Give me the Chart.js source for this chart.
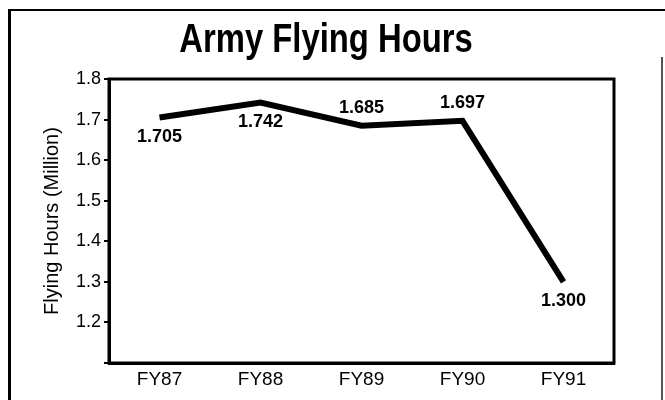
<!DOCTYPE html>
<html>
<head>
<meta charset="utf-8">
<script src="https://cdn.jsdelivr.net/npm/chart.js@4/dist/chart.umd.min.js"></script>
<style>
  html, body { margin: 0; padding: 0; background: #fff; }
  #wrap { position: relative; width: 665px; height: 400px; }
  #frame { position: absolute; left: 8px; top: 9px; width: 660px; height: 395px;
           border-left: 3px solid #000; border-top: 2px solid #000; }
  #rline { position: absolute; left: 661px; top: 57px; width: 0; height: 343px;
           border-left: 2px solid #555; }
</style>
</head>
<body>
<div id="wrap">
  <div id="frame"></div>
  <div id="rline"></div>
  <canvas id="ch" width="665" height="400"></canvas>
</div>
<script>
var TITLE = "Army Flying Hours";
var YEARS = ["FY87", "FY88", "FY89", "FY90", "FY91"];
var HOURS = [1.705, 1.742, 1.685, 1.697, 1.300];
var Y_MIN = 1.1, Y_MAX = 1.8, Y_STEP = 0.1;

var INK = "#000";
var FONT = "'Liberation Sans', Arial, Helvetica, sans-serif";

// condensed bold title (no narrow face installed, so squeeze it horizontally)
var titlePlugin = {
  id: "condTitle",
  afterDraw: function (chart, args, opts) {
    var ctx = chart.ctx;
    ctx.save();
    ctx.translate(opts.x, opts.baseline);
    ctx.scale(0.82, 1);
    ctx.font = "bold 40px " + FONT;
    ctx.fillStyle = INK;
    ctx.textAlign = "center";
    ctx.textBaseline = "alphabetic";
    ctx.fillText(TITLE, 0, 0);
    ctx.restore();
  }
};

// value labels above/below each point, and the closed plot frame
var labelPlugin = {
  id: "ptLabels",
  afterDatasetsDraw: function (chart, args, opts) {
    var ctx = chart.ctx, meta = chart.getDatasetMeta(0);
    ctx.save();
    ctx.font = "bold 18px " + FONT;
    ctx.fillStyle = INK;
    ctx.textAlign = "center";
    meta.data.forEach(function (pt, i) {
      var above = opts.place[i] === "above";
      ctx.textBaseline = above ? "bottom" : "top";
      ctx.fillText(HOURS[i].toFixed(3), pt.x, above ? pt.y - 9 : pt.y + 10);
    });
    ctx.restore();
  },
  afterDraw: function (chart) {
    var a = chart.chartArea, ctx = chart.ctx;
    ctx.save();
    ctx.strokeStyle = INK;
    ctx.lineWidth = 3;
    ctx.strokeRect(a.left, a.top, a.right - a.left, a.bottom - a.top);
    ctx.restore();
  }
};

new Chart(document.getElementById("ch"), {
  type: "line",
  data: {
    labels: YEARS,
    datasets: [{
      data: HOURS,
      borderColor: INK, borderWidth: 6, pointRadius: 0, tension: 0,
      borderJoinStyle: "miter", fill: false
    }]
  },
  plugins: [labelPlugin, titlePlugin],
  options: {
    responsive: false, animation: false,
    layout: { padding: { left: 36, right: 51, top: 79, bottom: 0 } },
    plugins: {
      legend: { display: false }, tooltip: { enabled: false }, title: { display: false },
      condTitle: { x: 326, baseline: 52 },
      ptLabels: { place: ["below", "below", "above", "above", "below"] }
    },
    scales: {
      x: {
        offset: true,
        afterFit: function (s) { s.height = 37; },
        grid: { display: false, drawTicks: false },
        border: { color: INK, width: 3 },
        ticks: { color: INK, padding: 5, font: { family: FONT, size: 19 } }
      },
      y: {
        min: Y_MIN, max: Y_MAX,
        afterFit: function (s) { s.width = 73; },
        grid: { drawOnChartArea: false, drawTicks: true, tickLength: 5, color: INK, lineWidth: 2 },
        border: { color: INK, width: 3 },
        ticks: {
          stepSize: Y_STEP, color: INK, padding: 3, font: { family: FONT, size: 18 },
          callback: function (v) { return Math.abs(v - Y_MIN) < 1e-6 ? "" : v.toFixed(1); }
        },
        title: { display: true, text: "Flying Hours (Million)", color: INK, font: { family: FONT, size: 20 } }
      }
    }
  }
});
</script>
</body>
</html>
